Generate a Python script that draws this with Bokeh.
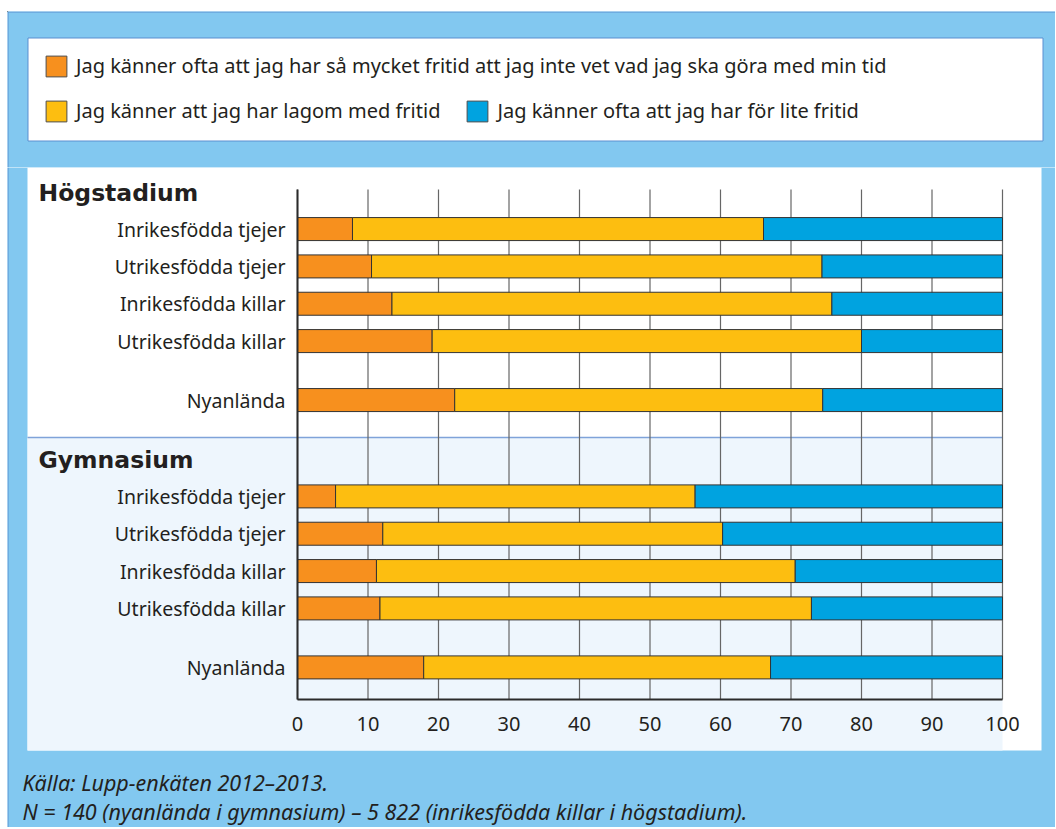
from bokeh.plotting import figure
from bokeh.layouts import column
from bokeh.models import (Range1d, BoxAnnotation, Label, FixedTicker, ColumnDataSource,
                          LinearAxis, Legend, LegendItem)
from bokeh.embed import file_html
from bokeh.resources import INLINE

# ---------------- data ----------------
groups = ["Högstadium", "Gymnasium"]
categories = ["Inrikesfödda tjejer", "Utrikesfödda tjejer", "Inrikesfödda killar",
              "Utrikesfödda killar", "Nyanlända"]
orange_h = [7.8, 10.5, 13.4, 19.1, 22.3]
yellow_h = [58.3, 63.9, 62.4, 60.9, 52.2]
blue_h = [33.9, 25.6, 24.2, 20.0, 25.5]
orange_g = [5.4, 12.1, 11.2, 11.7, 17.9]
yellow_g = [51.0, 48.2, 59.4, 61.2, 49.2]
blue_g = [43.6, 39.7, 29.4, 27.1, 32.9]
legend_labels = ["Jag känner ofta att jag har så mycket fritid att jag inte vet vad jag ska göra med min tid",
                 "Jag känner att jag har lagom med fritid",
                 "Jag känner ofta att jag har för lite fritid"]
x_ticks = [0, 10, 20, 30, 40, 50, 60, 70, 80, 90, 100]
footnotes = ["Källa: Lupp-enkäten 2012–2013.",
             "N = 140 (nyanlända i gymnasium) – 5 822 (inrikesfödda killar i högstadium)."]

# ---------------- style / layout constants ----------------
COL_O, COL_Y, COL_B = "#f7901e", "#fdbe10", "#00a3e0"
OUTER = "#82c8f0"
EDGE = "#5a8fd0"
TXT = "#231f20"
FONT = "Noto Sans"
row_slots = [1, 2, 3, 4, 5.58]
group_offsets = [0, 7.16]

PAGE_X0, PAGE_Y0 = 7, 11          # where the blue panel starts on the page
X0P, X100P = 297, 1002            # page x of value 0 and 100
TOPP, BOTP = 189, 699             # page y of the bar area's top and bottom
Y_TOP, Y_BOT = -0.06, 13.6        # data y at those page rows
PX_Y = (BOTP - TOPP) / (Y_BOT - Y_TOP)
PX_X = (X100P - X0P) / 100.0


def dx(px):
    return (px - X0P) / PX_X


def dy(py):
    return Y_TOP + (py - TOPP) / PX_Y


def solid_box(l, r, t, b, fill, line=None, level="image"):
    return BoxAnnotation(left=l, right=r, top=t, bottom=b, fill_color=fill, fill_alpha=1,
                         line_color=line if line else fill, line_alpha=1 if line else 0,
                         line_width=1, level=level)


# ---------------- legend figure (page 7..1055 x 11..167) ----------------
LW = 1048
LH = 167 - PAGE_Y0
pl = figure(width=LW, height=LH, output_backend="svg", toolbar_location=None, title=None,
            x_axis_type=None, y_axis_type=None,
            x_range=Range1d(PAGE_X0, PAGE_X0 + LW), y_range=Range1d(167, PAGE_Y0),
            min_border_left=0, min_border_right=0, min_border_top=0, min_border_bottom=0)
pl.border_fill_color = OUTER
pl.background_fill_color = OUTER
pl.outline_line_color = None
pl.add_layout(solid_box(PAGE_X0, PAGE_X0 + 1, PAGE_Y0, 167, EDGE))            # outer left edge
pl.add_layout(solid_box(PAGE_X0, PAGE_X0 + LW, PAGE_Y0, PAGE_Y0 + 1, EDGE))   # outer top edge
pl.add_layout(solid_box(27.5, 1042.5, 37.5, 140.5, "white", EDGE))            # legend box

# legend proxies (kept outside the visible range; only their swatches are shown)
swatch_renderers = []
for c in (COL_O, COL_Y, COL_B):
    swatch_renderers.append(pl.hbar(y=[-100], left=[0], right=[1], height=1, fill_color=c,
                                    line_color="#4d4d4d", line_width=1))

legend_style = dict(glyph_width=26, glyph_height=26, label_height=26, label_standoff=7,
                    label_text_font=FONT, label_text_font_size="20px", label_text_color=TXT,
                    padding=0, margin=0, spacing=24, orientation="horizontal",
                    background_fill_alpha=0, border_line_alpha=0)
legA = Legend(items=[LegendItem(label=legend_labels[0], renderers=[swatch_renderers[0]])],
              location=(43 - PAGE_X0, 167 - 79), **legend_style)
legB = Legend(items=[LegendItem(label=legend_labels[1], renderers=[swatch_renderers[1]]),
                     LegendItem(label=legend_labels[2], renderers=[swatch_renderers[2]])],
              location=(43 - PAGE_X0, 167 - 124), **legend_style)
pl.add_layout(legA)
pl.add_layout(legB)

# ---------------- chart figure (page 7..1055 x 167..827) ----------------
CW = 1048
CH = 660
pc = figure(width=CW, height=CH, output_backend="svg", toolbar_location=None, title=None,
            x_axis_type=None, y_axis_type=None,
            x_range=Range1d(dx(PAGE_X0), dx(PAGE_X0 + CW)), y_range=Range1d(dy(167 + CH), dy(167)),
            min_border_left=0, min_border_right=0, min_border_top=0, min_border_bottom=0)
pc.border_fill_color = OUTER
pc.background_fill_color = OUTER
pc.outline_line_color = None

pc.add_layout(solid_box(dx(PAGE_X0), dx(PAGE_X0 + 1), dy(167), dy(167 + CH), EDGE))  # outer left edge
pc.add_layout(solid_box(dx(27), dx(1041), dy(167), dy(750), "white"))               # chart panel
pc.add_layout(solid_box(dx(27), 100, dy(437), dy(750), "#eef6fd"))                   # gymnasium band
pc.add_layout(solid_box(dx(27), 100, dy(436.3), dy(437.7), "#7fa3d9"))               # divider

# vertical grid lines from the tick values
pc.segment(x0=x_ticks, x1=x_ticks, y0=[Y_TOP] * len(x_ticks), y1=[Y_BOT] * len(x_ticks),
           line_color="#666666", line_width=1.2)

# bars
positions = [g + r for g in group_offsets for r in row_slots]
labels = [c for _ in groups for c in categories]
src = ColumnDataSource(dict(pos=positions,
                            o=orange_h + orange_g,
                            yl=yellow_h + yellow_g,
                            b=blue_h + blue_g))
pc.hbar_stack(["o", "yl", "b"], y="pos", height=0.616, source=src,
              color=[COL_O, COL_Y, COL_B], line_color="#333333", line_width=1)

# axes fixed inside the white panel
xaxis = LinearAxis(fixed_location=Y_BOT, bounds=(0, 100), ticker=FixedTicker(ticks=x_ticks))
yaxis = LinearAxis(fixed_location=0, bounds=(Y_TOP, Y_BOT), ticker=FixedTicker(ticks=positions),
                   major_label_overrides={pos: lab for pos, lab in zip(positions, labels)})
for ax in (xaxis, yaxis):
    ax.axis_line_width = 2
    ax.axis_line_color = "#2b2b2b"
    ax.major_tick_line_color = None
    ax.minor_tick_line_color = None
    ax.major_label_text_font = FONT
    ax.major_label_text_color = TXT
xaxis.major_label_text_font_size = "20px"
yaxis.major_label_text_font_size = "19.5px"
xaxis.major_label_standoff = 11
yaxis.major_label_standoff = 6
pc.add_layout(xaxis, "below")
pc.add_layout(yaxis, "left")

# group headings
for g, off in zip(groups, group_offsets):
    pc.add_layout(Label(x=dx(38), y=off + dy(192.5), text=g, text_font="DejaVu Sans",
                        text_font_style="bold", text_font_size="23.5px",
                        text_color=TXT, text_baseline="alphabetic"))

# footnotes in the blue area below the white panel
for i, f in enumerate(footnotes):
    pc.add_layout(Label(x=dx(22), y=dy(782 + 29 * i), text=f, text_font=FONT,
                        text_font_style="italic", text_font_size="21.5px",
                        text_color=TXT, text_baseline="alphabetic"))

layout = column(pl, pc, spacing=0, margin=(PAGE_Y0, 0, 0, PAGE_X0))
open("out.html", "w").write(file_html(layout, INLINE))
